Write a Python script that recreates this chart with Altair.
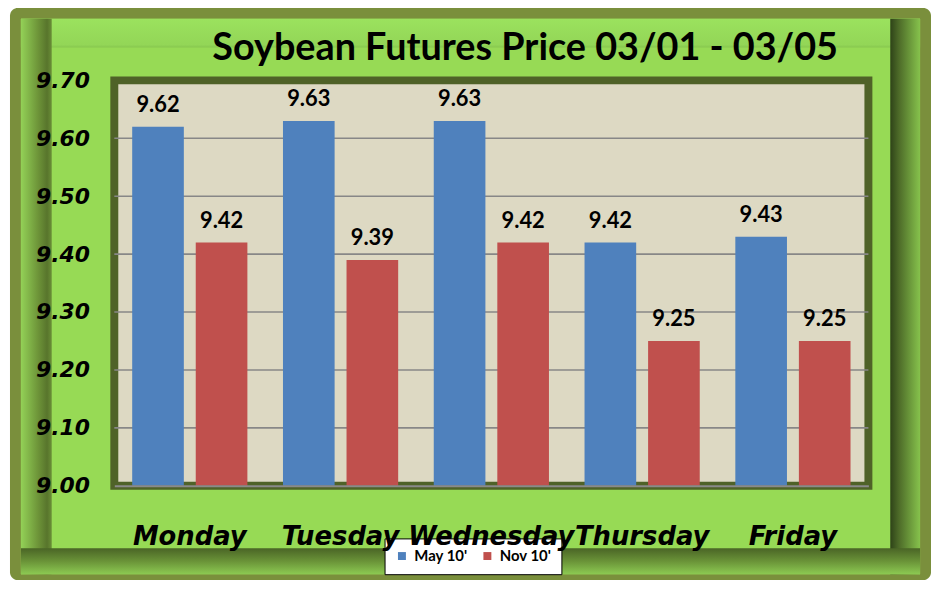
import altair as alt
import pandas as pd

# ---- data ----
days = ["Monday", "Tuesday", "Wednesday", "Thursday", "Friday"]
may_10 = [9.62, 9.63, 9.63, 9.42, 9.43]
nov_10 = [9.42, 9.39, 9.42, 9.25, 9.25]
series = ["May 10'", "Nov 10'"]
series_colors = ["#4F81BD", "#C0504D"]
y_ticks = [9.00, 9.10, 9.20, 9.30, 9.40, 9.50, 9.60, 9.70]
chart_title = "Soybean Futures Price 03/01 - 03/05"

rows = []
for d, m, n in zip(days, may_10, nov_10):
    rows.append({"day": d, "series": series[0], "price": m})
    rows.append({"day": d, "series": series[1], "price": n})
df = pd.DataFrame(rows)
grid_df = pd.DataFrame({"price": y_ticks[1:-1]})
dummy = pd.DataFrame({"k": [0]})

# ---- layout ----
W, H = 759, 408
OX, OY = 115, 79  # page position of plot origin (8px page margin included)
PAD = {"left": OX - 8, "top": OY - 8, "right": 63, "bottom": 93}


def frame_rect(x1, x2, y1, y2, fill, **kw):
    """Decorative frame piece, given in page pixels."""
    return alt.Chart(dummy).mark_rect(fill=fill, **kw).encode(
        x=alt.value(x1 - OX), x2=alt.value(x2 - OX),
        y=alt.value(y1 - OY), y2=alt.value(y2 - OY),
    )


def grad(stops, horizontal=True):
    return alt.Gradient(
        gradient="linear",
        stops=[alt.GradientStop(color=c, offset=o) for o, c in stops],
        x1=0, y1=0, x2=1 if horizontal else 0, y2=0 if horizontal else 1,
    )


frame = [
    frame_rect(10, 937, 6, 582, "#7A8F3C", cornerRadius=8),
    frame_rect(21, 926, 17, 576, "#97DA55"),
    frame_rect(21, 926, 17, 46, grad([(0, "#9BE25E"), (0.9, "#93D657"), (1, "#86C64E")], False)),
    frame_rect(21, 52, 17, 576, grad([(0, "#93D157"), (0.55, "#6E9539"), (0.85, "#58752C"), (1, "#6A8E37")])),
    frame_rect(896, 926, 17, 576, grad([(0, "#2E4318"), (0.3, "#4E6C29"), (1, "#86C24C")])),
    frame_rect(21, 926, 550, 576, grad([(0, "#4A6526"), (0.5, "#6A9338"), (1, "#8CC952")], False)),
    # plot panel (beige with dark olive border)
    frame_rect(OX, OX + W, OY, OY + H, "#DDD9C3", stroke="#4F6228", strokeWidth=8),
]

x_enc = alt.X(
    "day:N", sort=days,
    scale=alt.Scale(paddingInner=0.236, paddingOuter=0.1186),
    axis=alt.Axis(
        title=None, labelFont="DejaVu Sans", labelFontSize=26, labelFontWeight="bold",
        labelFontStyle="italic", labelColor="black", labelPadding=38, labelOverlap=False,
        labelBound=False, ticks=False, tickSize=0, domainColor="#8A8A8A", domainWidth=2,
        labelAngle=0, zindex=1,
    ),
)
xoff_enc = alt.XOffset("series:N", sort=series,
                       scale=alt.Scale(paddingInner=0.1875, paddingOuter=0))
y_scale = alt.Scale(domain=[9.0, 9.7], nice=False, zero=False, clamp=True)
y_axis = alt.Axis(
    values=y_ticks, format=".2f", title=None, grid=False, ticks=False, tickSize=0,
    domain=False, labelFont="DejaVu Sans", labelFontSize=22, labelFontWeight="bold",
    labelFontStyle="italic", labelColor="black", labelPadding=25, zindex=1,
)
y_enc = alt.Y("price:Q", scale=y_scale, axis=y_axis)

grid = alt.Chart(grid_df).mark_rule(color="#878787", strokeWidth=1.6).encode(
    y=alt.Y("price:Q", scale=y_scale, axis=y_axis)
)

bars = alt.Chart(df).mark_bar().encode(
    x=x_enc, xOffset=xoff_enc, y=y_enc,
    color=alt.Color(
        "series:N", sort=series,
        scale=alt.Scale(domain=series, range=series_colors),
        legend=alt.Legend(
            title=None, orient="none", legendX=272, legendY=461, direction="horizontal",
            fillColor="white", strokeColor="black", padding=10,
            labelFont="Lato", labelFontSize=15, labelFontWeight="bold", labelColor="black",
            symbolType="square", symbolSize=64, symbolStrokeWidth=0, columnPadding=12,
            labelOffset=5,
        ),
    ),
)

labels = alt.Chart(df).mark_text(
    font="Lato", fontSize=22, fontWeight="bold", baseline="alphabetic", dy=-15, color="black"
).encode(
    x=x_enc, xOffset=xoff_enc, y=y_enc, text=alt.Text("price:Q", format=".2f")
)

chart = alt.layer(*frame, grid, bars, labels).properties(
    width=W, height=H,
    padding=PAD,
    autosize=alt.AutoSizeParams(type="none"),
    background="white",
    title=alt.TitleParams(
        text=chart_title, font="Lato", fontSize=38, fontWeight="bold", color="black",
        anchor="middle", dx=34, offset=0, dy=90, baseline="alphabetic",
    ),
).configure_view(strokeWidth=0)

chart.save("out.html", embed_options={"renderer": "svg", "actions": False})
